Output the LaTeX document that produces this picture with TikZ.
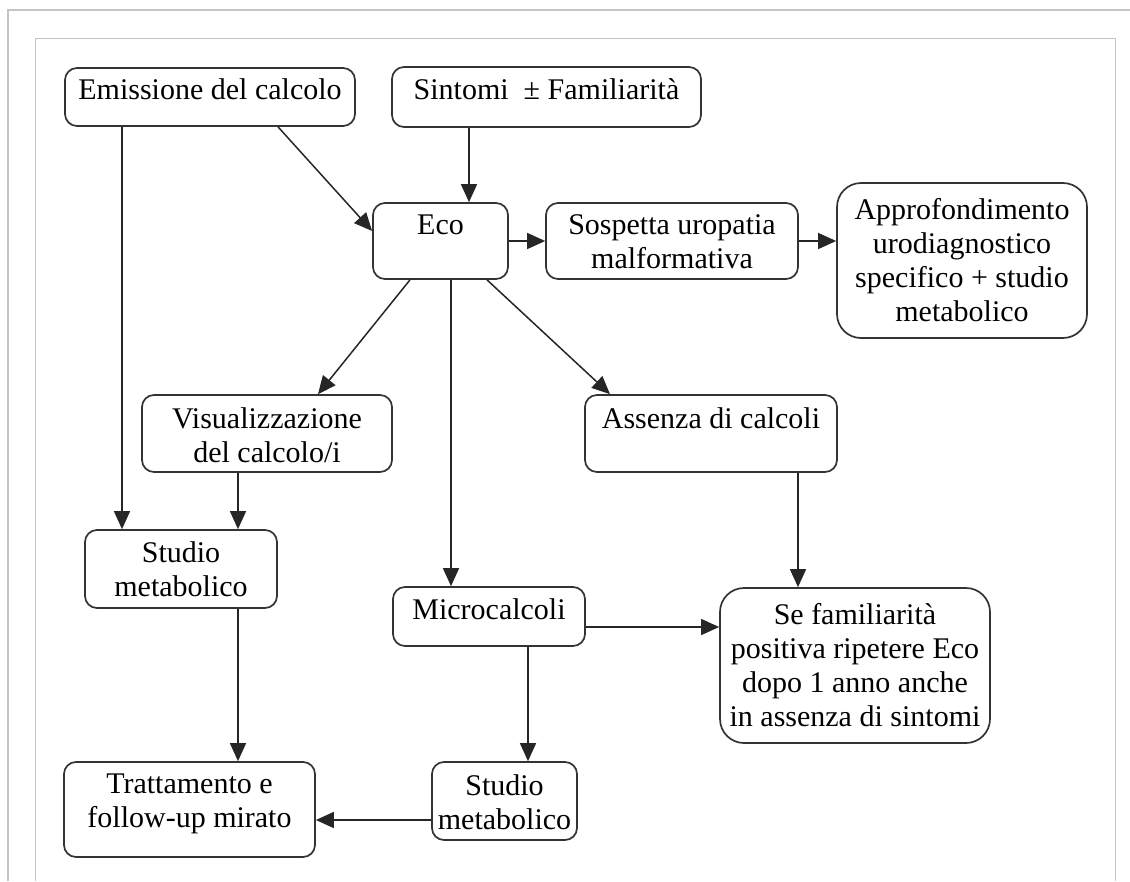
\documentclass[tikz,border=0pt]{standalone}
\usepackage{fontspec}
\setmainfont{Liberation Serif}
\usetikzlibrary{arrows.meta}
\definecolor{boxgray}{HTML}{333333}
\definecolor{framegray}{HTML}{C4C4C4}
\newcommand\topbox[4]{\parbox[c][#2pt][t]{#1pt}{\centering\rule{0pt}{#3pt}#4}}
\newcommand\midbox[3]{\parbox[c][#2pt][c]{#1pt}{\centering #3}}
\tikzset{
  boxy/.style={draw=boxgray, line width=1.7pt, rounded corners=12pt, inner sep=0pt, text=black},
  bigboxy/.style={boxy, rounded corners=24pt},
  arr/.style={draw=black!85, line width=1.5pt, -{Triangle[length=18pt,width=16pt]}}
}
\begin{document}
\begin{tikzpicture}[x=1pt,y=-1pt]
\useasboundingbox (0,0) rectangle (1130,881);
\fontsize{30}{34}\selectfont
% frames
\draw[framegray, line width=1.5pt] (8,881) -- (8,10) -- (1130,10);
\draw[framegray, line width=1pt] (35,881) -- (35,38) -- (1115,38) -- (1115,881);
% boxes
\node[boxy] (emi) at (210,97) {\topbox{290}{58}{31}{Emissione del calcolo}};
\node[boxy] (sin) at (546.5,97) {\topbox{309}{60}{32}{Sintomi~ ± Familiarità}};
\node[boxy] (eco) at (440.5,241) {\topbox{135}{76}{31}{Eco}};
\node[boxy] (sos) at (672,241) {\topbox{252}{76}{31}{Sospetta uropatia\\malformativa}};
\node[bigboxy] (app) at (962,260.5) {\midbox{250}{155}{Approfondimento\\urodiagnostico\\specifico + studio\\metabolico}};
\node[boxy] (vis) at (267,433.5) {\topbox{250}{77}{33}{Visualizzazione\\del calcolo/i}};
\node[boxy] (ass) at (711,433.5) {\topbox{252}{77}{33}{Assenza di calcoli}};
\node[boxy] (stl) at (181,569) {\topbox{192}{78}{32}{Studio\\metabolico}};
\node[boxy] (mic) at (489,616.5) {\topbox{192}{59}{32}{Microcalcoli}};
\node[bigboxy] (sef) at (855,665.5) {\midbox{270}{155}{Se familiarità\\positiva ripetere Eco\\dopo 1 anno anche\\in assenza di sintomi}};
\node[boxy] (stb) at (504.5,801) {\topbox{145}{78}{33}{Studio\\metabolico}};
\node[boxy] (tra) at (189.5,809.5) {\topbox{251}{95}{31}{Trattamento e\\follow-up mirato}};
% connectors
\draw[arr] ([xshift=68pt]emi.south) -- ([yshift=10pt]eco.west);
\draw[arr] ([xshift=-88pt]emi.south) -- ([xshift=-59pt]stl.north);
\draw[arr] ([xshift=-77.5pt]sin.south) -- ([xshift=28.5pt]eco.north);
\draw[arr] (eco.east) -- (sos.west);
\draw[arr] (sos.east) -- ([yshift=19.5pt]app.west);
\draw[arr] ([xshift=-30.5pt]eco.south) -- ([xshift=51pt]vis.north);
\draw[arr] ([xshift=10.5pt]eco.south) -- ([xshift=-38pt]mic.north);
\draw[arr] ([xshift=46.5pt]eco.south) -- ([xshift=-101pt]ass.north);
\draw[arr] ([xshift=-29pt]vis.south) -- ([xshift=57pt]stl.north);
\draw[arr] ([xshift=87pt]ass.south) -- ([xshift=-57pt]sef.north);
\draw[arr] ([yshift=-10.5pt]mic.east) -- ([yshift=38.5pt]sef.west);
\draw[arr] ([xshift=39pt]mic.south) -- ([xshift=23.5pt]stb.north);
\draw[arr] ([xshift=57pt]stl.south) -- ([xshift=48.5pt]tra.north);
\draw[arr] ([yshift=-19pt]stb.west) -- ([yshift=-10.5pt]tra.east);
\end{tikzpicture}
\end{document}
